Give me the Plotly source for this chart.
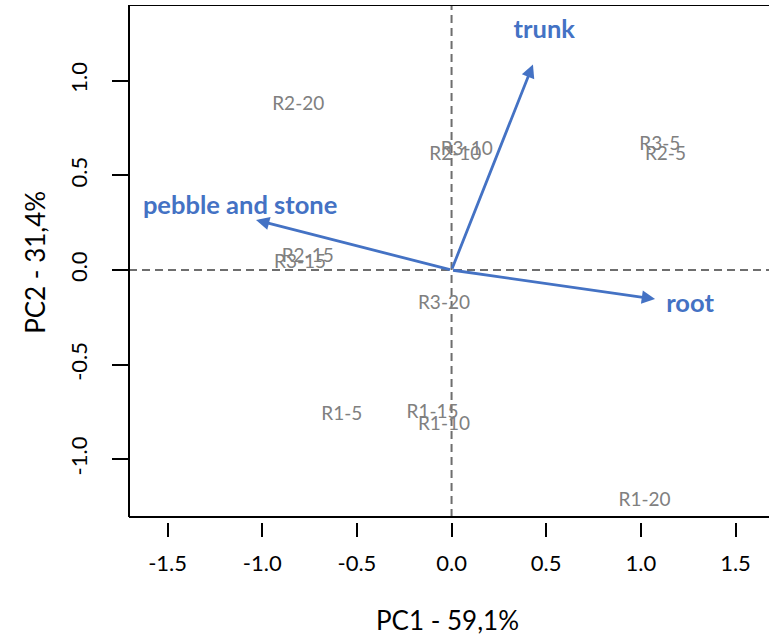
import plotly.graph_objects as go

# PCA biplot: sample scores and variable loadings
sample_names = ["R2-20", "R3-10", "R2-10", "R3-5", "R2-5", "R2-15", "R3-15",
                "R3-20", "R1-5", "R1-15", "R1-10", "R1-20"]
sample_pc1 = [-0.81, 0.08, 0.02, 1.10, 1.13, -0.76, -0.80,
              -0.04, -0.58, -0.10, -0.04, 1.02]
sample_pc2 = [0.872, 0.632, 0.608, 0.66, 0.608, 0.07, 0.038,
              -0.182, -0.765, -0.755, -0.82, -1.22]

var_names = ["trunk", "pebble and stone", "root"]
var_pc1 = [0.43, -1.033, 1.075]
var_pc2 = [1.086, 0.264, -0.153]
# label anchor points for the loading vectors
var_label_pc1 = [0.49, -1.117, 1.26]
var_label_pc2 = [1.26, 0.33, -0.19]

x_ticks = [-1.5, -1.0, -0.5, 0.0, 0.5, 1.0, 1.5]
y_ticks = [-1.0, -0.5, 0.0, 0.5, 1.0]

x_title = "PC1 - 59,1%"
y_title = "PC2 - 31,4%"

BLUE = "#4472C4"
GRAY = "#808080"
FONT = "Lato"

X_RANGE = [-1.704, 1.677]
Y_RANGE = [-1.331, 1.400]
FRAME_BOTTOM = -1.305

fig = go.Figure()

fig.add_trace(go.Scatter(
    x=sample_pc1, y=sample_pc2, text=sample_names, mode="text",
    textposition="middle center",
    textfont=dict(family=FONT, size=19, color=GRAY),
    hoverinfo="skip", showlegend=False, cliponaxis=False,
))

fig.add_trace(go.Scatter(
    x=var_label_pc1, y=var_label_pc2, text=[f"<b>{n}</b>" for n in var_names],
    mode="text", textposition="middle center",
    textfont=dict(family=FONT, size=25.5, color=BLUE),
    hoverinfo="skip", showlegend=False, cliponaxis=False,
))

# origin reference lines
dash = "8px,5px"
fig.add_shape(type="line", xref="x", yref="y", x0=0, x1=0, y0=FRAME_BOTTOM, y1=Y_RANGE[1],
              line=dict(color="#6e6e6e", width=2, dash=dash), layer="below")
fig.add_shape(type="line", xref="x", yref="y", x0=X_RANGE[0], x1=X_RANGE[1], y0=0, y1=0,
              line=dict(color="#6e6e6e", width=2, dash=dash), layer="below")

# loading vectors
for vx, vy in zip(var_pc1, var_pc2):
    fig.add_annotation(
        x=vx, y=vy, ax=0, ay=0, xref="x", yref="y", axref="x", ayref="y",
        text="", showarrow=True, arrowhead=2, arrowsize=0.95, arrowwidth=2.8,
        arrowcolor=BLUE, standoff=0, startstandoff=0,
    )

# plot frame: left, top and bottom edges
fig.add_shape(type="line", xref="paper", yref="y", x0=0, x1=0, y0=FRAME_BOTTOM, y1=Y_RANGE[1],
              line=dict(color="black", width=2))
fig.add_shape(type="line", xref="paper", yref="y", x0=0, x1=1.01, y0=Y_RANGE[1], y1=Y_RANGE[1],
              line=dict(color="black", width=2))
fig.add_shape(type="line", xref="paper", yref="y", x0=0, x1=1.01, y0=FRAME_BOTTOM, y1=FRAME_BOTTOM,
              line=dict(color="black", width=2))

fig.add_annotation(text=x_title, xref="paper", yref="paper", x=0.497, y=-0.19,
                   showarrow=False, xanchor="center", yanchor="middle",
                   font=dict(family=FONT, size=26, color="black"))
fig.add_annotation(text=y_title, xref="paper", yref="paper", x=-0.147, y=0.503,
                   showarrow=False, xanchor="center", yanchor="middle", textangle=-90,
                   font=dict(family=FONT, size=26, color="black"))

fig.update_layout(
    width=769, height=638,
    margin=dict(l=129, r=0, t=5, b=116),
    paper_bgcolor="white", plot_bgcolor="white",
    xaxis=dict(range=X_RANGE, tickvals=x_ticks, ticktext=[f"{v:.1f}" for v in x_ticks],
               ticks="outside", ticklen=14, tickwidth=2, tickcolor="black",
               showgrid=False, zeroline=False, showline=False,
               tickfont=dict(family=FONT, size=22, color="black"),
               ticklabelstandoff=8),
    yaxis=dict(range=Y_RANGE, tickvals=y_ticks, ticktext=[f"{v:.1f}" for v in y_ticks],
               ticks="outside", ticklen=16, tickwidth=2, tickcolor="black",
               showgrid=False, zeroline=False, showline=False, tickangle=-90,
               tickfont=dict(family=FONT, size=22, color="black"),
               ticklabelstandoff=16),
)

fig.write_html("out.html")
